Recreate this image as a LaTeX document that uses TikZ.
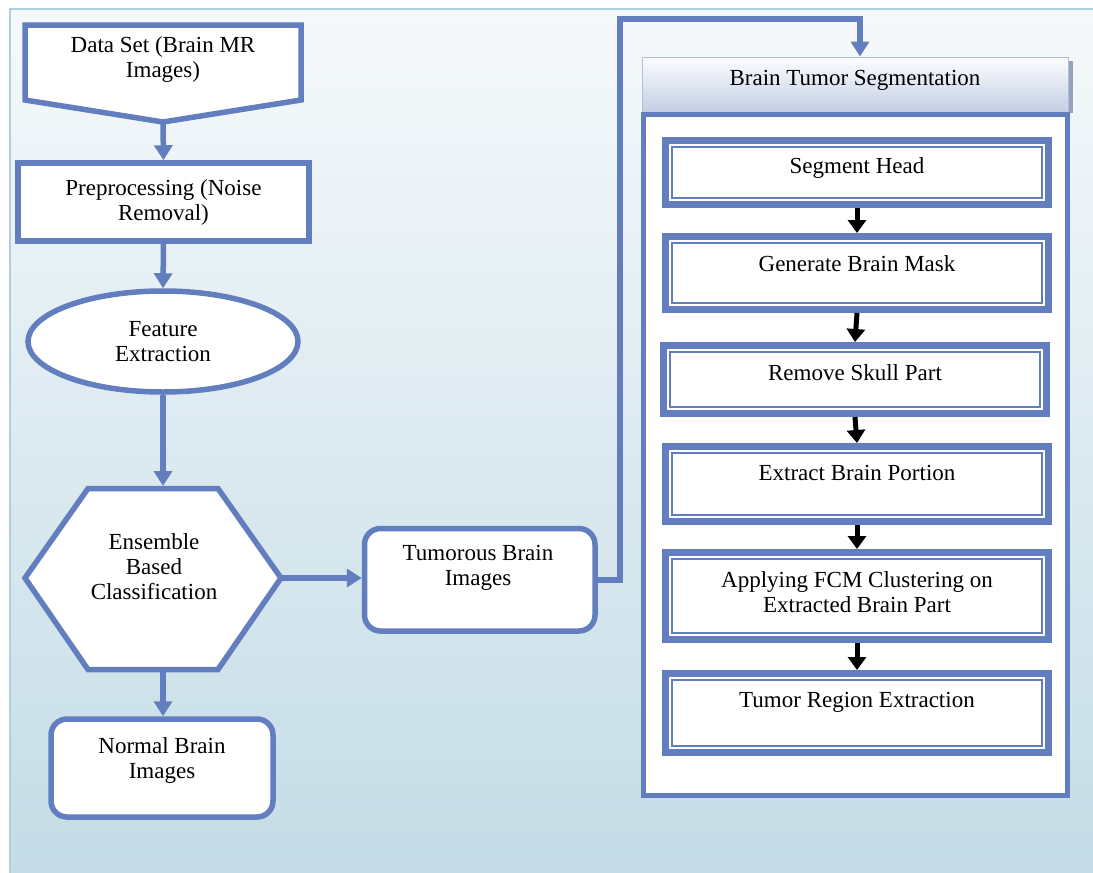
\documentclass[tikz,border=0pt]{standalone}
\usepackage{fontspec}
\setmainfont{Liberation Serif}
\usetikzlibrary{arrows.meta,shapes.geometric}
\definecolor{lineblue}{RGB}{99,126,190}
\definecolor{bgtop}{RGB}{246,249,251}
\definecolor{bgbot}{RGB}{196,220,230}
\definecolor{framec}{RGB}{172,208,222}
\definecolor{headtop}{RGB}{252,253,255}
\definecolor{headbot}{RGB}{196,206,228}
\definecolor{headline}{RGB}{176,190,216}
\definecolor{shadowc}{RGB}{150,162,190}
\begin{document}
\begin{tikzpicture}[x=1pt,y=-1pt,
  every node/.style={font=\fontsize{23}{25}\selectfont, align=center, inner sep=0pt},
  box/.style={draw=lineblue, line width=5.5pt, fill=white, rectangle},
  rbox/.style={box, rounded corners=16pt},
  cbox/.style={draw=lineblue, line width=5pt, fill=white, rectangle},
  dbox/.style={draw=lineblue, line width=7pt, fill=white, rectangle, minimum width=383pt,
    path picture={\draw[lineblue, line width=1.6pt]
      ([shift={(6.5pt,-6.5pt)}]path picture bounding box.north west) rectangle
      ([shift={(-6.5pt,6.5pt)}]path picture bounding box.south east);}},
  barrow/.style={draw=lineblue, line width=5.5pt, -{Triangle[width=18pt,length=15pt]}},
  karrow/.style={draw=black, line width=5pt, -{Triangle[width=18pt,length=13pt]}}
]
\useasboundingbox (0,0) rectangle (1093,873);
% background
\fill[white] (0,0) rectangle (1093,873);
\shade[top color=bgtop, bottom color=bgbot] (10,9) rectangle (1093,873);
\draw[framec, line width=1.5pt] (10,873) -- (10,9) -- (1093,9);

% left column
\draw[box, line join=miter] (25,25) -- (301,25) -- (301,100) -- (163,122) -- (25,100) -- cycle;
\node (data) at (163,59) {Data Set (Brain MR\\Images)};
\coordinate (datatip) at (163,123);

\node[box, minimum width=291pt, minimum height=78pt] (pre) at (163.5,202) {Preprocessing (Noise\\Removal)};

\node[ellipse, draw=lineblue, line width=5.5pt, fill=white, minimum width=270pt, minimum height=101pt] (feat) at (163,341.5) {Feature\\Extraction};

\draw[draw=lineblue, line width=5.5pt, fill=white] (25,578) -- (88,488.5) -- (218,488.5) -- (281,578) -- (218,669.5) -- (88,669.5) -- cycle;
\node (hex) at (154,567) {Ensemble\\Based\\Classification};
\coordinate (hexT) at (163,486);
\coordinate (hexB) at (163,672);
\coordinate (hexR) at (281,578);

\node[rbox, minimum width=230.5pt, minimum height=102.5pt] (tumbox) at (479.75,579.75) {};
\node (tum) at (478,568) {Tumorous Brain\\Images};

\node[rbox, minimum width=222pt, minimum height=98pt] (normbox) at (162,768) {};
\node (norm) at (162,760) {Normal Brain\\Images};

% left connectors
\draw[barrow] (datatip) -- (pre.north);
\draw[barrow] (pre.south) -- (feat.south |- feat.north);
\draw[barrow] (feat.south) -- (hexT);
\draw[barrow] (hexB) -- (hexB |- normbox.north);
\draw[barrow] (hexR) -- (hexR -| tumbox.west);

% right column
\fill[shadowc] (1066,61) rectangle (1073,113);
\node[draw=headline, line width=1pt, top color=headtop, bottom color=headbot, rectangle,
  minimum width=426pt, minimum height=55pt] (head) at (855,84.5) {};
\node (headt) at (855,80) {Brain Tumor Segmentation};
\node[cbox, minimum width=424.5pt, minimum height=680.5pt] (cont) at (855.25,454.75) {};

\coordinate (bendA) at (620,19);
\coordinate (bendB) at (860,19);
\draw[barrow] (tumbox.east) -| (bendA) -- (bendB) -- (bendB |- head.north);

\node[dbox, minimum height=64pt] (seg) at (857,172.5) {};
\node (segt) at (857,168) {Segment Head};
\node[dbox, minimum height=73pt] (gen) at (857,273) {};
\node (gent) at (857,264) {Generate Brain Mask};
\node[dbox, minimum height=68pt] (rem) at (855,379.5) {};
\node (remt) at (855,373) {Remove Skull Part};
\node[dbox, minimum height=75pt] (ext) at (857,484) {};
\node (extt) at (857,473) {Extract Brain Portion};
\node[dbox, minimum height=87pt] (fcm) at (857,596) {};
\node (fcmt) at (857,592) {Applying FCM Clustering on\\Extracted Brain Part};
\node[dbox, minimum height=79pt] (treg) at (857,713) {};
\node (tregt) at (857,702) {Tumor Region Extraction};

\draw[karrow] (seg.south) -- (gen.north);
\draw[karrow] (gen.south) -- (rem.north);
\draw[karrow] (rem.south) -- (ext.north);
\draw[karrow] (ext.south) -- (fcm.north);
\draw[karrow] (fcm.south) -- (treg.north);
\end{tikzpicture}
\end{document}
